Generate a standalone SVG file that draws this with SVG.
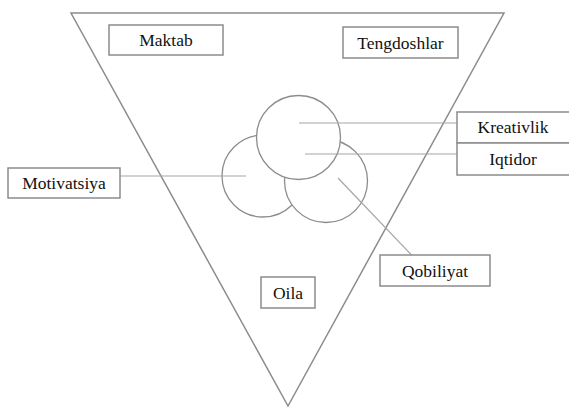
<svg xmlns="http://www.w3.org/2000/svg" width="569" height="409" viewBox="0 0 569 409">
<style>
.box{fill:#fff;stroke:#8c8c8c;stroke-width:1.5}
.ln{stroke:#a6a6a6;stroke-width:1.2;fill:none}
.c{fill:#fff;stroke:#8c8c8c;stroke-width:1.3}
.t{font-family:'Times New Roman','Liberation Serif',Times,serif;font-size:17.5px;fill:#111;text-anchor:middle}
</style>
<rect width="569" height="409" fill="#fff"/>
<g id="triangle"><polygon points="71,13 504,13 288,406" fill="none" stroke="#8c8c8c" stroke-width="1.5"/></g>
<g id="circles">
<circle class="c" cx="263" cy="176" r="41"/>
<circle class="c" cx="326" cy="181" r="41.5"/>
<circle class="c" cx="298.5" cy="137.5" r="42"/>
</g>
<g id="connectors">
<line class="ln" x1="299" y1="123" x2="457" y2="123"/>
<line class="ln" x1="305" y1="154" x2="457" y2="154"/>
<line class="ln" x1="120" y1="176" x2="246" y2="176"/>
<line class="ln" x1="338" y1="178" x2="422" y2="266"/>
</g>
<g id="maktab"><rect class="box" x="109" y="25" width="114" height="30"/><text class="t" x="166" y="46">Maktab</text></g>
<g id="tengdoshlar"><rect class="box" x="343" y="27" width="115" height="31"/><text class="t" x="400.5" y="49">Tengdoshlar</text></g>
<g id="kreativlik"><rect class="box" x="457" y="112" width="113" height="31"/><text class="t" x="513" y="133">Kreativlik</text></g>
<g id="iqtidor"><rect class="box" x="457" y="143" width="113" height="32"/><text class="t" x="513" y="165">Iqtidor</text></g>
<g id="motivatsiya"><rect class="box" x="8" y="168" width="112" height="30"/><text class="t" x="64" y="189">Motivatsiya</text></g>
<g id="qobiliyat"><rect class="box" x="380" y="255" width="110" height="31"/><text class="t" x="435" y="277">Qobiliyat</text></g>
<g id="oila"><rect class="box" x="261" y="277" width="54" height="31"/><text class="t" x="288" y="299">Oila</text></g>
</svg>
